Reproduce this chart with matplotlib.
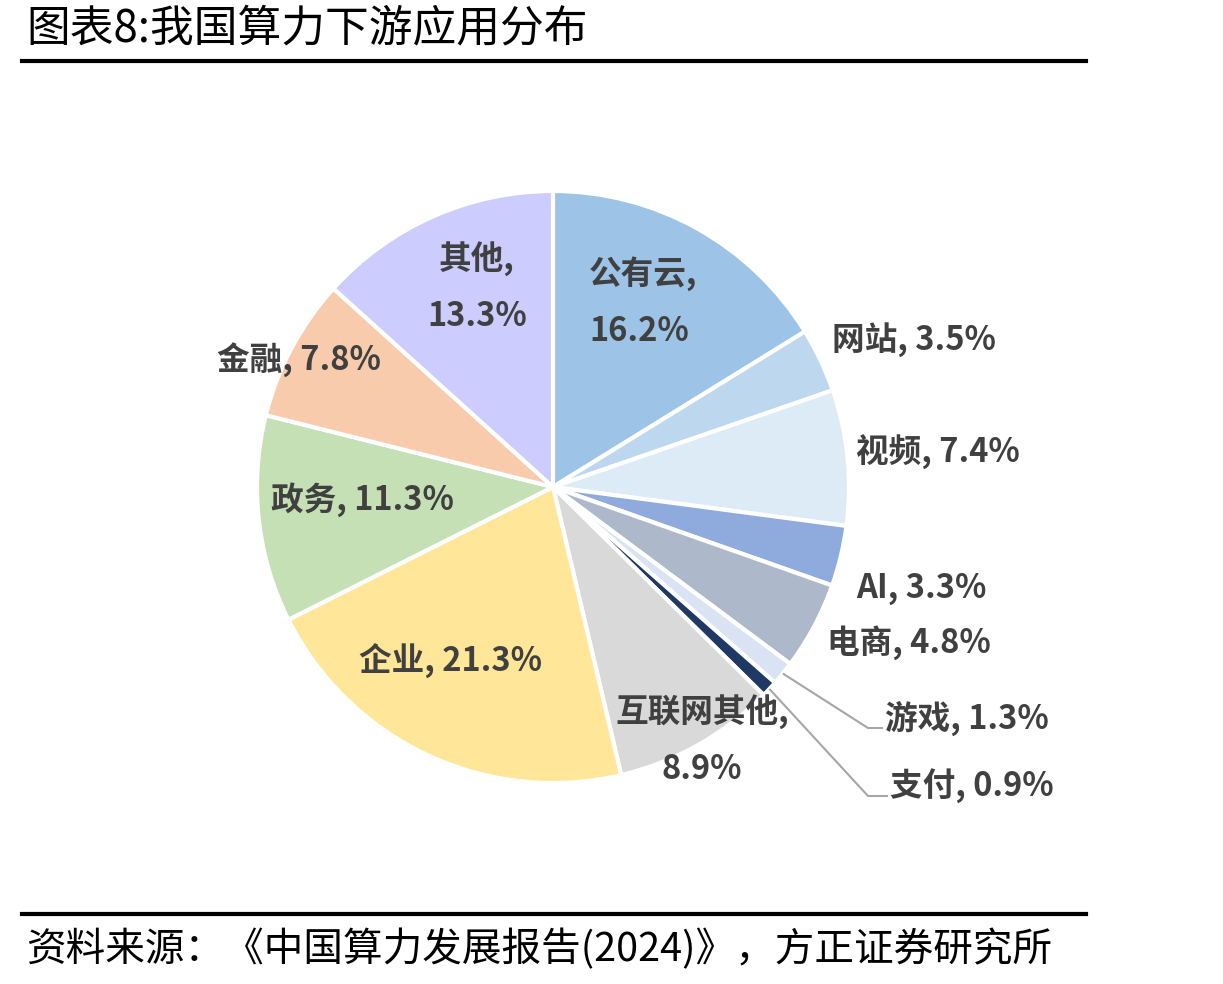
import matplotlib
matplotlib.use("Agg")
import matplotlib.pyplot as plt
import numpy as np

plt.rcParams['font.family'] = ['Noto Sans CJK SC', 'DejaVu Sans']

# data
categories = ['公有云', '网站', '视频', 'AI', '电商', '游戏', '支付',
              '互联网其他', '企业', '政务', '金融', '其他']
shares = [16.2, 3.5, 7.4, 3.3, 4.8, 1.3, 0.9, 8.9, 21.3, 11.3, 7.8, 13.3]
colors = ['#9DC3E6', '#BDD7EE', '#DDEBF7', '#8FAADC', '#ADB9CA', '#D9E3F4',
          '#203864', '#D9D9D9', '#FFE699', '#C5E0B4', '#F8CBAD', '#CCCCFF']

title = '图表8:我国算力下游应用分布'
source = '资料来源：《中国算力发展报告(2024)》，方正证券研究所'

W, H = 1223, 984
CX, CY, R = 553, 487, 296   # pie centre / radius in pixels


def P(px, py):
    # pixel -> data coords (pie radius = 1)
    return (px - CX) / R, (CY - py) / R


fig = plt.figure(figsize=(W / 100, H / 100), dpi=100)
ax = fig.add_axes([0, 0, 1, 1])

wedges, _ = ax.pie(shares, colors=colors, startangle=90, counterclock=False,
                   radius=1.0, wedgeprops=dict(edgecolor='white', linewidth=3))

ax.set_xlim(-CX / R, (W - CX) / R)
ax.set_ylim(-(H - CY) / R, CY / R)
ax.axis('off')

lab = dict(fontsize=23.5, fontweight='bold', color='#404040')

def label(i, px, py, ha='left', two_lines=False):
    if two_lines:
        s = f'{categories[i]},\n{shares[i]}%'
    else:
        s = f'{categories[i]}, {shares[i]}%'
    ax.text(*P(px, py), s, ha=ha, va='center', linespacing=1.95, **lab)

label(0, 589, 302, two_lines=True)
label(1, 832, 340)
label(2, 856, 452)
label(3, 856, 589)
label(4, 827, 643)
label(5, 885, 718)
label(6, 890, 786)
label(7, 702, 740, ha='center', two_lines=True)
label(8, 451, 661, ha='center')
label(9, 362, 500, ha='center')
label(10, 299, 360, ha='center')
label(11, 477, 287, ha='center', two_lines=True)

# leader lines for the two thin slices
cum = np.cumsum([0] + shares)
for i, (ex, ey, tx) in zip([5, 6], [(868, 728, 883), (868, 796, 888)]):
    mid = cum[i] + shares[i] / 2
    ang = np.deg2rad(90 - mid * 3.6)
    x0, y0 = np.cos(ang) * 1.0, np.sin(ang) * 1.0
    x1, y1 = P(ex, ey)
    x2, _ = P(tx, ey)
    ax.plot([x0, x1, x2], [y0, y1, y1], color='#A6A6A6', lw=1.5,
            solid_capstyle='butt')

# title, rules and source
ax.text(*P(26, 28), title, ha='left', va='center', fontsize=31.5,
        color='black')
ax.plot(*zip(P(22, 61), P(1086, 61)), color='black', lw=3, clip_on=False)
ax.plot(*zip(P(22, 914), P(1086, 914)), color='black', lw=3, clip_on=False)
ax.text(*P(26, 950), source, ha='left', va='center', fontsize=28.5,
        color='black')

fig.savefig('out.png', dpi=100)
